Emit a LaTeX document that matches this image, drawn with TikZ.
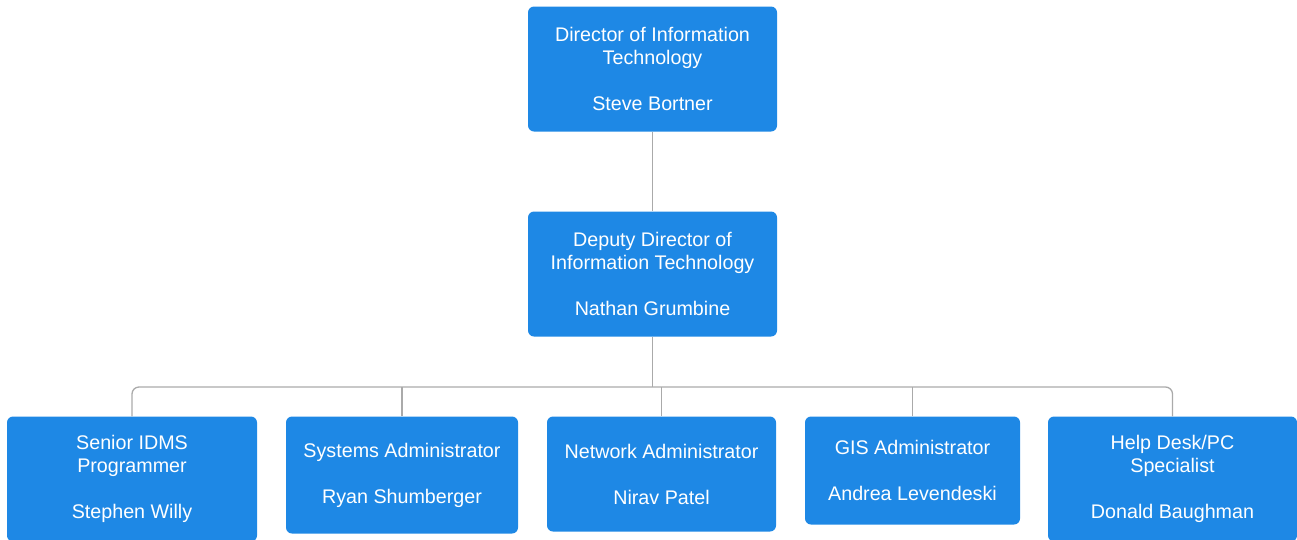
\documentclass[tikz,border=0pt]{standalone}
\usepackage{fontspec}
\setmainfont{Liberation Sans}
\definecolor{boxblue}{HTML}{1E88E5}
\definecolor{linegray}{HTML}{AAAAAA}
\begin{document}
\begin{tikzpicture}[x=1pt,y=-1pt,
  card/.style={fill=boxblue,draw=none,rounded corners=6pt,inner sep=0pt,
    text=white,align=center,font=\fontsize{19.7}{23}\selectfont},
  conn/.style={draw=linegray,line width=1.3pt}]
\useasboundingbox (0,0) rectangle (1297,539);
\node[card,minimum width=249pt,minimum height=125pt] (dir) at (652.5,69)
  {Director of Information\\Technology\\[23pt]Steve Bortner};
\node[card,minimum width=249pt,minimum height=125pt] (dep) at (652.5,274)
  {Deputy Director of\\Information Technology\\[23pt]Nathan Grumbine};
\node[card,minimum width=250pt,minimum height=125pt] (b1) at (132,479)
  {Senior IDMS\\Programmer\\[23pt]Stephen Willy};
\node[card,minimum width=232pt,minimum height=117pt] (b2) at (402,475)
  {Systems Administrator\\[23pt]Ryan Shumberger};
\node[card,minimum width=229pt,minimum height=115pt] (b3) at (661.5,474)
  {Network Administrator\\[23pt]Nirav Patel};
\node[card,minimum width=215pt,minimum height=108pt] (b4) at (912.5,470.5)
  {GIS Administrator\\[23pt]Andrea Levendeski};
\node[card,minimum width=249pt,minimum height=125pt] (b5) at (1172.5,479)
  {Help Desk/PC\\Specialist\\[23pt]Donald Baughman};
\coordinate (bus) at (652.5,387);
\draw[conn] (dir.south) -- (dep.north);
\draw[conn] (dep.south) -- (bus);
\draw[conn,rounded corners=7pt] (b1.north) |- (bus) -| (b5.north);
\draw[conn] (b2.north) -- (b2.north |- bus);
\draw[conn] (b3.north) -- (b3.north |- bus);
\draw[conn] (b4.north) -- (b4.north |- bus);
\end{tikzpicture}
\end{document}
